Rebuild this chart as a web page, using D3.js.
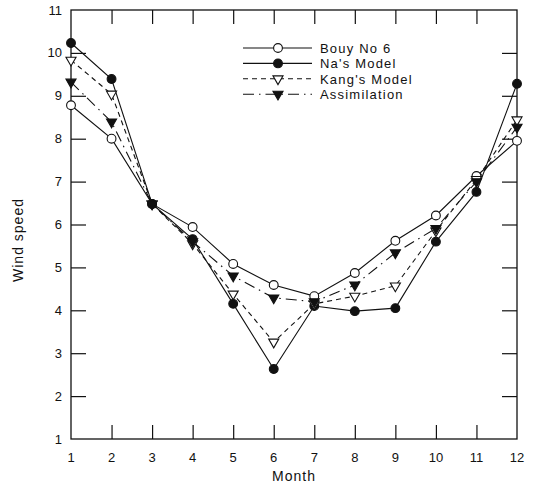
<html>
  <head>
    <meta charset="utf-8"/>
    <style>
      body { margin: 0; background: white; }
      text { font-family: "Liberation Sans", Arial, sans-serif; fill: #111; }
      .line { fill: none; stroke: #111; stroke-width: 1.1; }
    </style>
    <script src="https://d3js.org/d3.v7.min.js"></script>
  </head>
  <body>
    <script>
    var width = 539, height = 489;

    var months = [1, 2, 3, 4, 5, 6, 7, 8, 9, 10, 11, 12];
    var bouy  = [8.78, 8.00, 6.48, 5.94, 5.08, 4.59, 4.33, 4.87, 5.62, 6.21, 7.13, 7.95];
    var na    = [10.23, 9.39, 6.48, 5.66, 4.15, 2.63, 4.10, 3.98, 4.05, 5.60, 6.76, 9.28];
    var kang  = [9.83, 9.04, 6.48, 5.55, 4.38, 3.26, 4.15, 4.33, 4.57, 5.85, 7.05, 8.44];
    var assim = [9.32, 8.39, 6.48, 5.60, 4.80, 4.29, 4.20, 4.59, 5.34, 5.91, 7.00, 8.27];
    var yTicks = [1, 2, 3, 4, 5, 6, 7, 8, 9, 10, 11];

    var series = [
      {name: "Bouy No 6",    values: bouy,  dash: null,         marker: "circle",   fill: "white"},
      {name: "Na's Model",   values: na,    dash: null,         marker: "circle",   fill: "#111"},
      {name: "Kang's Model", values: kang,  dash: "5,4",        marker: "triangle", fill: "white"},
      {name: "Assimilation", values: assim, dash: "11,5,1.5,5", marker: "triangle", fill: "#111"}
    ];

    var x = d3.scaleLinear().domain([1, 12]).range([71, 517]);
    var y = d3.scaleLinear().domain([1, 11]).range([439, 10]);

    var svg = d3.select("body").append("svg")
      .attr("width", width).attr("height", height);

    // frame
    svg.append("rect")
      .attr("x", x(1)).attr("y", y(11))
      .attr("width", x(12) - x(1)).attr("height", y(1) - y(11))
      .attr("fill", "none").attr("stroke", "#111").attr("stroke-width", 1.3);

    // inner ticks
    var inner = months.slice(1, -1), innerY = yTicks.slice(1, -1);
    svg.append("g").attr("transform", "translate(0," + y(1) + ")")
      .call(d3.axisTop(x).tickValues(inner).tickSize(14).tickFormat(""))
      .call(g => g.select(".domain").remove());
    svg.append("g").attr("transform", "translate(0," + y(11) + ")")
      .call(d3.axisBottom(x).tickValues(inner).tickSize(14).tickFormat(""))
      .call(g => g.select(".domain").remove());
    svg.append("g").attr("transform", "translate(" + x(1) + ",0)")
      .call(d3.axisRight(y).tickValues(innerY).tickSize(15).tickFormat(""))
      .call(g => g.select(".domain").remove());
    svg.append("g").attr("transform", "translate(" + x(12) + ",0)")
      .call(d3.axisLeft(y).tickValues(innerY).tickSize(15).tickFormat(""))
      .call(g => g.select(".domain").remove());
    svg.selectAll(".tick line").attr("stroke", "#111").attr("stroke-width", 1.2);

    // tick labels
    svg.selectAll(".xl").data(months).enter().append("text")
      .attr("x", d => x(d)).attr("y", 462)
      .attr("text-anchor", "middle").attr("font-size", 13).text(d => d);
    svg.selectAll(".yl").data(yTicks).enter().append("text")
      .attr("x", 62).attr("y", d => y(d) + 4.5)
      .attr("text-anchor", "end").attr("font-size", 13).text(d => d);

    svg.append("text").attr("x", (x(1) + x(12)) / 2).attr("y", 481)
      .attr("text-anchor", "middle").attr("font-size", 14)
      .attr("letter-spacing", 1).text("Month");
    svg.append("text").attr("transform", "translate(23,240) rotate(-90)")
      .attr("text-anchor", "middle").attr("font-size", 14)
      .attr("letter-spacing", 1).text("Wind speed");

    var tri = d3.symbol().type(d3.symbolTriangle).size(44);
    function drawMarker(g, s, px, py) {
      if (s.marker === "circle") {
        g.append("circle").attr("cx", px).attr("cy", py).attr("r", 4.4)
          .attr("fill", s.fill).attr("stroke", "#111").attr("stroke-width", 1.1);
      } else {
        g.append("path").attr("d", tri)
          .attr("transform", "translate(" + px + "," + py + ") rotate(180)")
          .attr("fill", s.fill).attr("stroke", "#111").attr("stroke-width", 1.1);
      }
    }

    var line = d3.line().x((d, i) => x(months[i])).y(d => y(d));

    series.forEach(function (s) {
      svg.append("path").attr("class", "line")
        .attr("d", line(s.values))
        .attr("stroke-dasharray", s.dash);
    });
    series.forEach(function (s) {
      var g = svg.append("g");
      s.values.forEach((v, i) => drawMarker(g, s, x(months[i]), y(v)));
    });

    // legend
    var legend = svg.append("g");
    series.forEach(function (s, i) {
      var ly = 48 + i * 15.4;
      legend.append("line").attr("class", "line")
        .attr("x1", 243).attr("x2", 312).attr("y1", ly).attr("y2", ly)
        .attr("stroke-dasharray", s.dash);
      drawMarker(legend, s, 278, ly);
      legend.append("text").attr("x", 320).attr("y", ly + 5)
        .attr("font-size", 13).attr("letter-spacing", 1.2).text(s.name);
    });
    </script>
  </body>
</html>
